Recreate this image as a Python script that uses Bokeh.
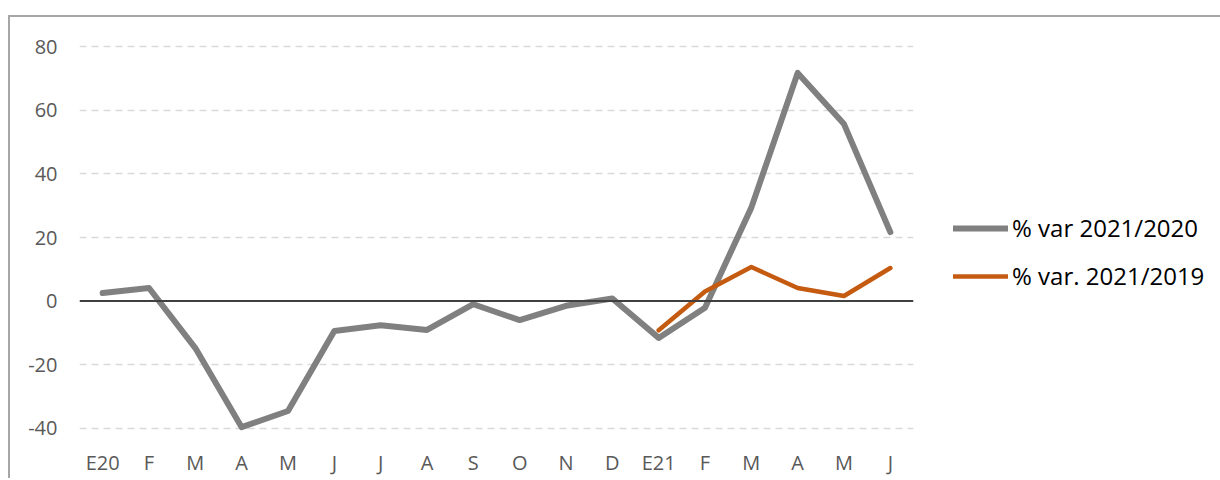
from bokeh.plotting import figure
from bokeh.models import Range1d, FixedTicker, Span, Legend, LegendItem
from bokeh.embed import file_html
from bokeh.resources import INLINE

months = ["E20", "F", "M", "A", "M", "J", "J", "A", "S", "O", "N", "D",
          "E21", "F", "M", "A", "M", "J"]
var_2021_2020 = [2.5, 4.1, -14.8, -39.7, -34.6, -9.4, -7.6, -9.1, -1.0, -6.0,
                 -1.5, 0.8, -11.6, -2.1, 29.4, 71.8, 55.7, 21.7]
var_2021_2019_idx = [12, 13, 14, 15, 16, 17]
var_2021_2019 = [-9.2, 3.0, 10.7, 4.1, 1.6, 10.4]
y_ticks = [-40, -20, 0, 20, 40, 60, 80]

x_all = list(range(len(months)))

p = figure(width=1210, height=463, output_backend="svg", toolbar_location=None,
           x_range=Range1d(-0.5, len(months) - 0.5), y_range=Range1d(-42, 82),
           frame_width=834, frame_height=394,
           min_border_left=69, min_border_top=23, min_border_bottom=36,
           min_border_right=10)
p.outline_line_color = None
p.background_fill_color = "white"
p.border_fill_color = "white"
p.styles = {"margin-left": "8px", "margin-top": "15px",
            "border-left": "2px solid #a6a6a6", "border-top": "2px solid #a6a6a6"}

p.xaxis.ticker = FixedTicker(ticks=x_all)
p.xaxis.major_label_overrides = {i: m for i, m in enumerate(months)}
p.yaxis.ticker = FixedTicker(ticks=y_ticks)
p.yaxis.major_label_overrides = {t: str(t) for t in y_ticks}
for ax in (p.xaxis, p.yaxis):
    ax.axis_line_color = None
    ax.major_tick_line_color = None
    ax.minor_tick_line_color = None
    ax.major_tick_out = 0
    ax.major_tick_in = 0
    ax.major_label_text_font = "Open Sans"
    ax.major_label_text_font_size = "20px"
    ax.major_label_text_color = "#595959"
p.xaxis.major_label_standoff = 14
p.yaxis.major_label_standoff = 22

p.xgrid.grid_line_color = None
p.ygrid.ticker = FixedTicker(ticks=[t for t in y_ticks if t != 0])
p.ygrid.grid_line_color = "#d9d9d9"
p.ygrid.grid_line_width = 1.5
p.ygrid.grid_line_dash = "7 5"

p.add_layout(Span(location=0, dimension="width", line_color="#404040", line_width=2))

r1 = p.line(x_all, var_2021_2020, line_color="#808080", line_width=6,
            line_cap="round", line_join="round")
r2 = p.line(var_2021_2019_idx, var_2021_2019, line_color="#c55a11", line_width=4.5,
            line_cap="round", line_join="round")

legend = Legend(items=[LegendItem(label="% var 2021/2020", renderers=[r1]),
                       LegendItem(label="% var. 2021/2019", renderers=[r2])],
                location=(40, 142), orientation="vertical")
legend.border_line_color = None
legend.background_fill_color = None
legend.label_text_font = "Open Sans"
legend.label_text_font_size = "24px"
legend.label_text_color = "#000000"
legend.glyph_width = 55
legend.glyph_height = 20
legend.label_height = 20
legend.label_standoff = 4
legend.spacing = 15
legend.padding = 0
legend.margin = 0
p.add_layout(legend, "right")

open("out.html", "w").write(file_html(p, INLINE))
